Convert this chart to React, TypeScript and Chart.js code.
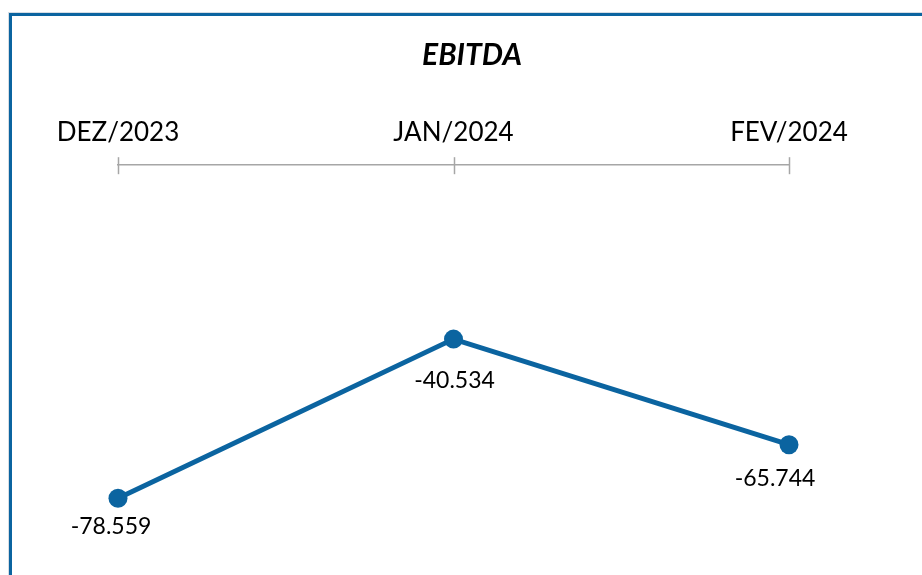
import React, { useEffect, useRef } from 'react';
import { Chart, registerables } from 'chart.js';

Chart.register(...registerables);

const categories = ['DEZ/2023', 'JAN/2024', 'FEV/2024'];
const ebitda = [-78.559, -40.534, -65.744];
const valueLabels = ['-78.559', '-40.534', '-65.744'];
const chartTitle = 'EBITDA';

const FONT = 'Lato, "Open Sans", sans-serif';
const BLUE = '#0B64A0';
const AXIS_GRAY = '#a6a6a6';

// label placement (style) relative to each point
const LABEL_DX = [-7, 1, -14];
const LABEL_DY = [28, 41, 34];

const titlePlugin = {
  id: 'customTitle',
  afterDraw(chart: any) {
    const ctx = chart.ctx;
    ctx.save();
    ctx.font = `italic bold 30px ${FONT}`;
    ctx.fillStyle = '#000';
    ctx.textAlign = 'center';
    ctx.textBaseline = 'middle';
    ctx.fillText(chartTitle, 472, 55);
    ctx.restore();
  },
};

const tickPlugin = {
  id: 'crossTicks',
  afterDraw(chart: any) {
    const scale = chart.scales.x;
    const ctx = chart.ctx;
    const y0 = chart.chartArea.top;
    ctx.save();
    ctx.strokeStyle = AXIS_GRAY;
    ctx.lineWidth = 1.5;
    for (let i = 0; i < scale.ticks.length; i++) {
      const x = Math.round(scale.getPixelForTick(i)) + 0.5;
      ctx.beginPath();
      ctx.moveTo(x, y0 - 8);
      ctx.lineTo(x, y0 + 9);
      ctx.stroke();
    }
    ctx.restore();
  },
};

const labelPlugin = {
  id: 'valueLabels',
  afterDatasetsDraw(chart: any) {
    const meta = chart.getDatasetMeta(0);
    const ctx = chart.ctx;
    ctx.save();
    ctx.font = `23px ${FONT}`;
    ctx.fillStyle = '#000';
    ctx.textAlign = 'center';
    ctx.textBaseline = 'middle';
    meta.data.forEach((el: any, i: number) => {
      ctx.fillText(valueLabels[i], el.x + LABEL_DX[i], el.y + LABEL_DY[i]);
    });
    ctx.restore();
  },
};

export default function App() {
  const ref = useRef<HTMLCanvasElement | null>(null);

  useEffect(() => {
    if (!ref.current) return;
    const chart = new Chart(ref.current, {
      type: 'line',
      data: {
        labels: categories,
        datasets: [
          {
            data: ebitda,
            borderColor: BLUE,
            backgroundColor: BLUE,
            borderWidth: 5,
            pointRadius: 9.5,
            pointBackgroundColor: BLUE,
            pointBorderWidth: 0,
            tension: 0,
            clip: false as any,
          },
        ],
      },
      options: {
        animation: false,
        responsive: false,
        maintainAspectRatio: false,
        layout: { padding: { left: 118, right: 133, top: 100, bottom: 0 } },
        plugins: {
          legend: { display: false },
          title: { display: false },
          tooltip: { enabled: false },
        },
        scales: {
          x: {
            position: 'top',
            offset: false,
            grid: { display: false, drawTicks: false, drawOnChartArea: false },
            border: { display: true, color: AXIS_GRAY, width: 1.5 },
            ticks: {
              padding: 17,
              color: '#000',
              font: { family: FONT, size: 26 },
              maxRotation: 0,
              autoSkip: false,
            },
          },
          y: {
            display: false,
            min: -94.6,
            max: 1.0,
          },
        },
      },
      plugins: [tickPlugin, labelPlugin, titlePlugin],
    });
    return () => chart.destroy();
  }, []);

  return (
    <div
      style={{
        position: 'fixed',
        left: 0,
        top: 0,
        width: 922,
        height: 575,
        overflow: 'hidden',
        background: '#fff',
      }}
    >
      <div
        style={{
          position: 'absolute',
          left: 9,
          top: 13,
          width: 1200,
          height: 900,
          borderLeft: `3px solid ${BLUE}`,
          borderTop: `3px solid ${BLUE}`,
          boxShadow: '-1px -1px 0 #d6dde4',
        }}
      />
      <canvas
        ref={ref}
        width={922}
        height={575}
        style={{ position: 'absolute', left: 0, top: 0, width: 922, height: 575 }}
      />
    </div>
  );
}
